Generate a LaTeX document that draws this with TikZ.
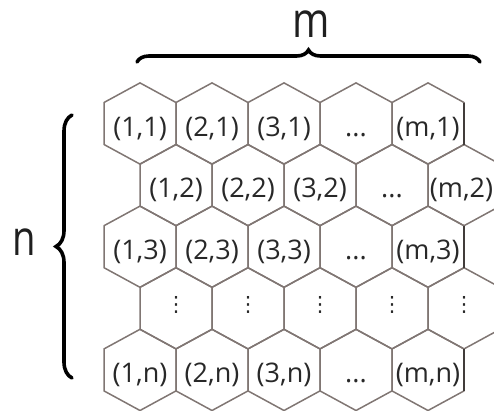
\documentclass[tikz,border=0pt]{standalone}
\usepackage{fontspec}
\setmainfont{Open Sans}
\newfontfamily\dejavu{DejaVu Sans}
\usetikzlibrary{decorations.pathreplacing}
\definecolor{hexline}{RGB}{128,118,115}
\definecolor{hexdark}{RGB}{65,60,58}
\definecolor{txt}{RGB}{40,40,40}
\begin{document}
\begin{tikzpicture}[x=1pt,y=-1pt,
  hexcell/.style={draw=hexline,line width=1.5pt,line join=round},
  hexedge/.style={draw=hexdark,line width=2pt},
  celllabel/.style={anchor=base,inner sep=0pt,text=txt,font=\fontsize{27}{27}\selectfont},
  vdotlabel/.style={anchor=center,inner sep=0pt,text=txt,font=\dejavu\fontsize{21}{21}\selectfont},
  bigletter/.style={anchor=base,inner sep=0pt,text=black!88,font=\fontsize{49}{49}\selectfont},
  bracepath/.style={line width=3.6pt,draw=black,line cap=round,decorate,decoration={brace,amplitude=#1}}]
\useasboundingbox (0,0) rectangle (494,410);
\begin{scope}
\clip (0,0) rectangle (494,410);
\foreach \r in {1,...,5}{
  \foreach \c in {1,...,5}{
    \pgfmathsetmacro\cx{140+72*(\c-1)+36*(1-mod(\r,2))}
    \pgfmathsetmacro\cy{123.5+61.6*(\r-1)}
    \draw[hexcell] (\cx,\cy-40.6) -- ++(36,19.6) -- ++(0,42) -- ++(-36,19.6) -- ++(-36,-19.6) -- ++(0,-42) -- cycle;
  }
}
\foreach \r in {1,3,5}{
  \pgfmathsetmacro\cy{123.5+61.6*(\r-1)}
  \draw[hexedge] (464,\cy-21) -- (464,\cy+21);
}
\foreach \r/\rl in {1/1,3/3,5/n}{
  \foreach \c/\cl in {1/1,2/2,3/3,5/m}{
    \pgfmathsetmacro\cx{140+72*(\c-1)}
    \pgfmathsetmacro\cy{123.5+61.6*(\r-1)+12.5}
    \node[celllabel] (lab-\c-\r) at (\cx,\cy) {(\cl,\rl)};
  }
  \pgfmathsetmacro\cy{123.5+61.6*(\r-1)+12.5}
  \node[celllabel] (lab-4-\r) at (356,\cy) {...};
}
\foreach \c/\cl in {1/1,2/2,3/3}{
  \pgfmathsetmacro\cx{176+72*(\c-1)}
  \node[celllabel] (lab-\c-2) at (\cx,197.6) {(\cl,2)};
}
\node[celllabel] (lab-4-2) at (392,197.6) {...};
\node[celllabel] (lab-5-2) at (461.5,197.6) {(m,2)};
\foreach \c in {1,...,5}{
  \pgfmathsetmacro\cx{140+72*(\c-1)+36}
  \node[vdotlabel] (lab-\c-4) at (\cx,305) {⋮};
}
\end{scope}
\coordinate (bt1) at (137,62);
\coordinate (bt2) at (480,62);
\draw[bracepath=12] (bt1) -- (bt2);
\coordinate (bl1) at (72,378);
\coordinate (bl2) at (72,115);
\draw[bracepath=16] (bl1) -- (bl2);
\node[bigletter] (mlab) at (311,37) {\scalebox{0.82}[1]{m}};
\node[bigletter] (nlab) at (24,255) {\scalebox{0.78}[1]{n}};
\end{tikzpicture}
\end{document}
